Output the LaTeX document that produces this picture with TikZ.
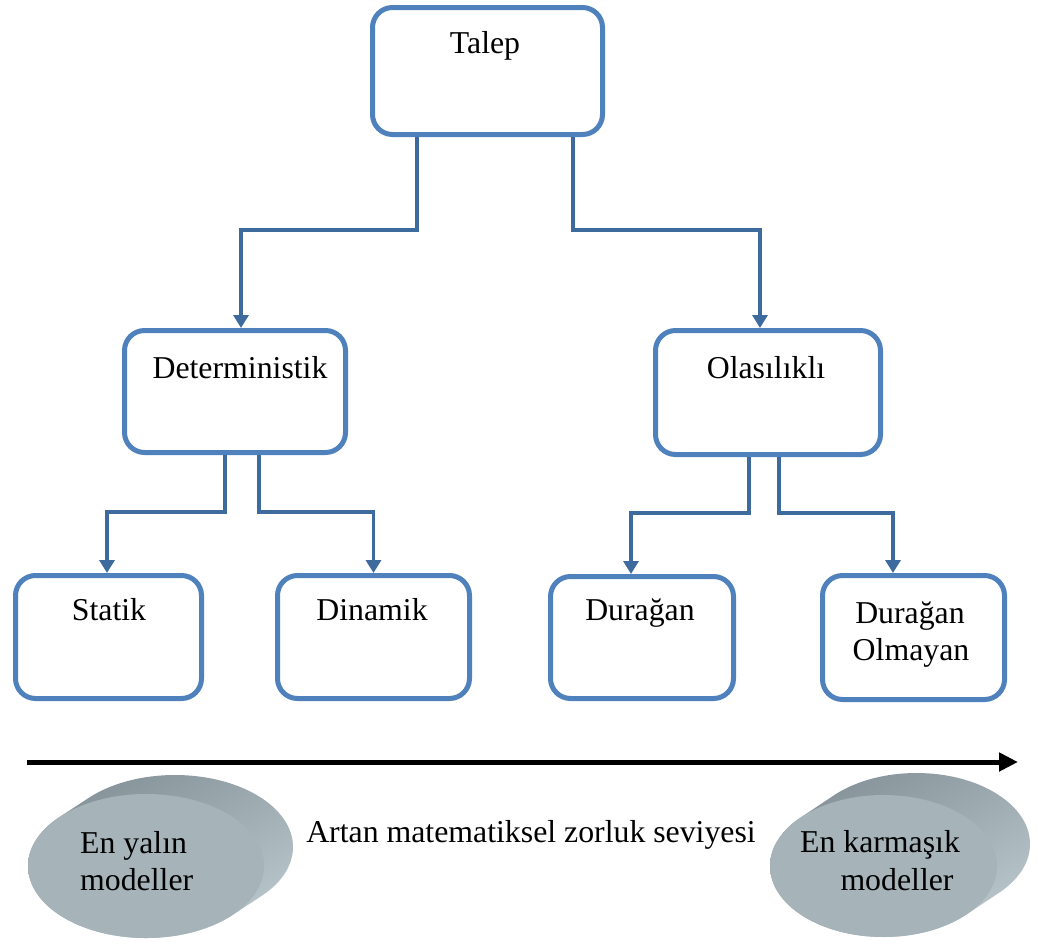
\documentclass[tikz,border=0pt]{standalone}
\usepackage{fontspec}
\setmainfont{Liberation Serif}
\usetikzlibrary{arrows.meta,shadings}
\definecolor{boxblue}{HTML}{4F81BD}
\definecolor{linkblue}{HTML}{3D6B9E}
\definecolor{discface}{HTML}{A6B4BA}
\definecolor{discdark}{HTML}{7C8990}
\definecolor{discmid}{HTML}{9CA9AF}
\definecolor{disclight}{HTML}{C3D1D7}
\begin{document}
\begin{tikzpicture}[x=1pt,y=-1pt,
  box/.style 2 args={draw=boxblue, line width=5pt, rounded corners=20pt,
    fill=white, minimum width=#1, minimum height=#2, inner sep=0pt},
  lbl/.style={anchor=base, inner sep=0pt, font=\fontsize{31.8}{37}\selectfont},
  link/.style={draw=linkblue, line width=3.4pt,
    -{Triangle[length=13pt,width=15pt]}},
  axis/.style={draw=black, line width=5pt,
    -{Triangle[length=19pt,width=18pt]}},
  disc/.style={upper left=discdark, upper right=discmid,
    lower right=disclight, lower left=discmid}]
\useasboundingbox (0,0) rectangle (1038,945);

% boxes
\node[box={230}{127}] (talep) at (487.5,71) {};
\node[box={221}{122}] (det) at (235,391.5) {};
\node[box={225}{124}] (ola) at (768,392.5) {};
\node[box={186}{123}] (statik) at (108.5,637) {};
\node[box={192}{123}] (dinamik) at (373.5,637) {};
\node[box={183}{122}] (duragan) at (642,637.5) {};
\node[box={182}{124}] (olmayan) at (913.5,637.5) {};

% box labels
\node[lbl] (tTalep) at (485,53) {Talep};
\node[lbl] (tDet) at (240,378) {Deterministik};
\node[lbl] (tOla) at (766,378) {Olasılıklı};
\node[lbl] (tStatik) at (109,620) {Statik};
\node[lbl] (tDinamik) at (372,620) {Dinamik};
\node[lbl] (tDuragan) at (640,620) {Durağan};
\node[lbl] (tOlm1) at (910,623) {Durağan};
\node[lbl] (tOlm2) at (911,660) {Olmayan};

% tree connectors
\draw[link] ([xshift=-70.5pt]talep.south) -- ++(0,93) -| ([xshift=6pt]det.north);
\draw[link] ([xshift=85.5pt]talep.south) -- ++(0,93) -| ([xshift=-8pt]ola.north);
\draw[link] ([xshift=-10pt]det.south) -- ++(0,57) -| ([xshift=-1.5pt]statik.north);
\draw[link] ([xshift=24pt]det.south) -- ++(0,57) -| (dinamik.north);
\draw[link] ([xshift=-19pt]ola.south) -- ++(0,56) -| ([xshift=-11pt]duragan.north);
\draw[link] ([xshift=11pt]ola.south) -- ++(0,56) -| ([xshift=-20.5pt]olmayan.north);

% complexity axis
\coordinate (axL) at (27,762);
\coordinate (axR) at (1018,762);
\draw[axis] (axL) -- (axR);
\node[lbl] (tAxis) at (531,842) {Artan matematiksel zorluk seviyesi};

% left disc: extruded side, then front face
\shade[disc] \foreach \t in {0,0.1,...,1.01} {
  ({146+29*\t},{866-19*\t}) ellipse [x radius=118pt, y radius=72pt]};
\fill[discface] (146,866) ellipse [x radius=118pt, y radius=72pt];
\node[lbl, anchor=base west] (tL1) at (80,853) {En yalın};
\node[lbl, anchor=base west] (tL2) at (80,890) {modeller};

% right disc
\shade[disc] \foreach \t in {0,0.1,...,1.01} {
  ({883.5+33*\t},{866-22*\t}) ellipse [x radius=113.5pt, y radius=71pt]};
\fill[discface] (883.5,866) ellipse [x radius=113.5pt, y radius=71pt];
\node[lbl] (tR1) at (880,852) {En karmaşık};
\node[lbl] (tR2) at (897,890) {modeller};
\end{tikzpicture}
\end{document}
